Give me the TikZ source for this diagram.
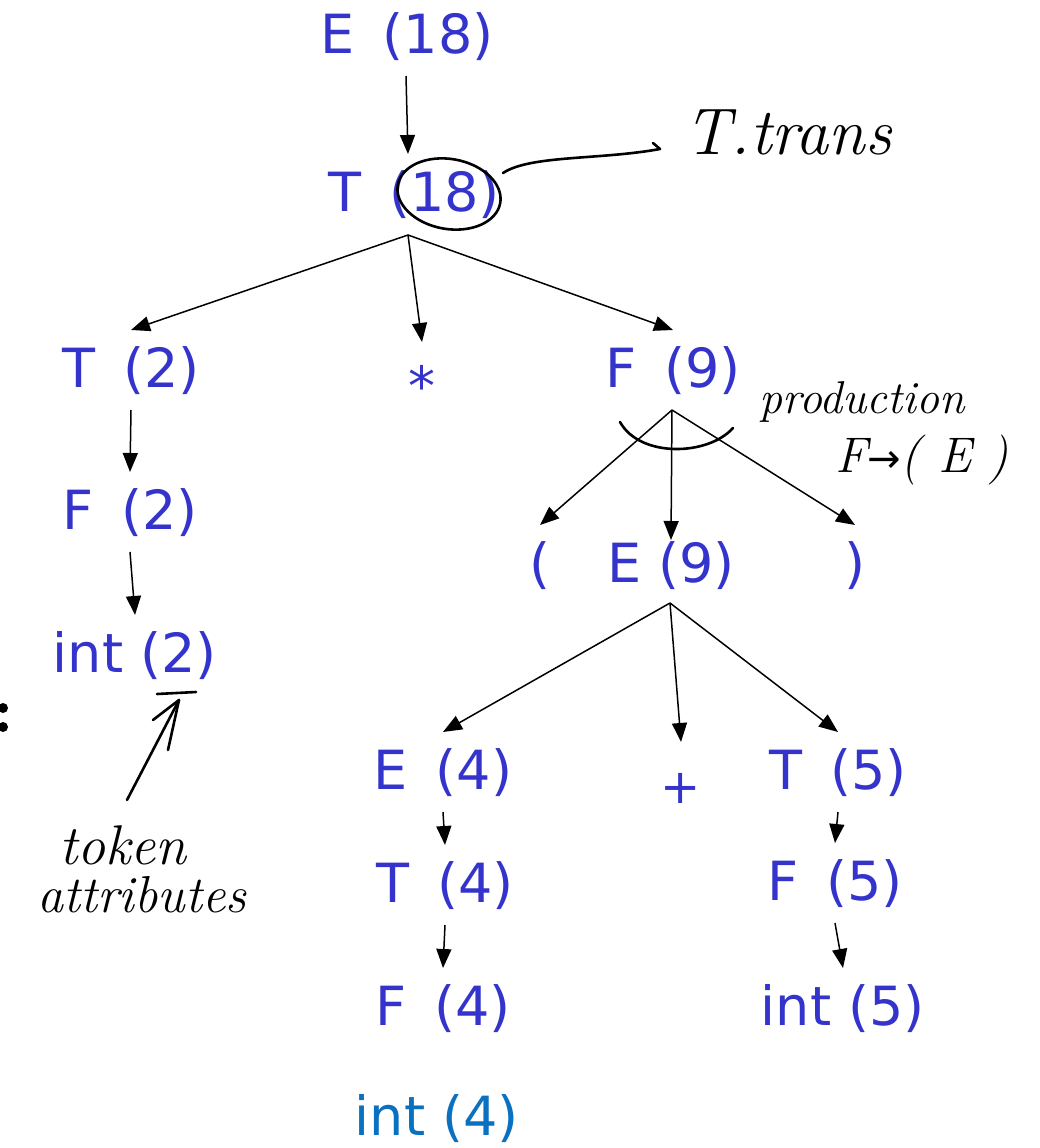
\documentclass[tikz,border=0pt]{standalone}
\usepackage{fontspec}
\newfontfamily\treefont{DejaVu Sans}
\usetikzlibrary{arrows.meta}
\definecolor{tblue}{RGB}{52,52,204}
\definecolor{iblue}{RGB}{10,112,192}
\newcommand{\tgap}{\hspace{0.52em}}
\tikzset{
  sym/.style={text=tblue, font=\treefont\fontsize{54}{60}\selectfont, inner sep=0pt, outer sep=15pt, text height=42pt, text depth=8pt, anchor=center},
  small/.style={sym, text height=24pt, text depth=0pt},
  arr/.style={line width=1.5pt, -{Triangle[length=19pt,width=15pt]}},
  hand/.style={line width=2.6pt, line cap=round, line join=round},
  note/.style={font=\itshape\fontsize{50}{56}\selectfont, inner sep=0pt, anchor=center}
}
\begin{document}
\begin{tikzpicture}[x=1pt,y=-1pt]
\useasboundingbox (0,0) rectangle (1039,1148);
% tree nodes
\node[sym] (E18) at (407,36) {E\tgap(18)};
\node[sym] (T18) at (414,194) {T\tgap(18)};
\node[sym] (T2) at (131,370) {T\tgap(2)};
\node[small, outer sep=39pt] (star) at (422,393) {*};
\node[sym] (F9) at (673,370) {F\tgap(9)};
\node[sym] (F2) at (130,512) {F\tgap(2)};
\node[sym] (int2) at (135,655) {int (2)};
\node[sym] (lp) at (540,565) {(};
\node[sym] (E9) at (671,565) {E (9)};
\node[sym] (rp) at (855,565) {)};
\node[sym] (E4) at (443,772) {E\tgap(4)};
\node[small, font=\treefont\fontsize{48}{52}\selectfont, outer sep=37pt] (plus) at (681,791) {+};
\node[sym] (T5) at (838,772) {T\tgap(5)};
\node[sym] (T4) at (445,885) {T\tgap(4)};
\node[sym] (F4) at (443,1008) {F\tgap(4)};
\node[sym, text=iblue] (int4) at (437,1118) {int (4)};
\node[sym] (F5) at (835,883) {F\tgap(5)};
\node[sym] (int5) at (843,1008) {int (5)};
% branch points
\coordinate (Tb) at (408,235);
\coordinate (Fb) at (672,410);
\coordinate (Eb) at (670,603);
% edges
\draw[arr] ([xshift=-1pt]E18.south) -- ([xshift=-6pt]T18.north);
\draw[arr] (Tb) -- (T2.north);
\draw[arr] (Tb) -- (star.north);
\draw[arr] (Tb) -- (F9.north);
\draw[arr] (T2.south) -- (F2.north);
\draw[arr] (F2.south) -- (int2.north);
\draw[arr] (Fb) -- (lp.north);
\draw[arr] (Fb) -- ([yshift=-15pt]E9.north);
\draw[arr] (Fb) -- (rp.north);
\draw[arr] (Eb) -- (E4.north);
\draw[arr] (Eb) -- (plus.north);
\draw[arr] (Eb) -- (T5.north);
\draw[arr] (E4.south) -- (T4.north);
\draw[arr] (T4.south) -- (F4.north);
\draw[arr] (T5.south) -- (F5.north);
\draw[arr] (F5.south) -- (int5.north);
% colon at left edge
\fill (3,708) circle (5pt);
\fill (3,727) circle (5pt);
% annotation: T.trans
\draw[hand, rotate around={-10:(449,194)}] (449,194) ellipse (52pt and 35pt);
\node[note, font=\itshape\fontsize{66}{70}\selectfont] (ttrans) at (788,132) {T.trans};
\coordinate (tt1) at (503,173);
\coordinate (tt2) at (660,149);
\draw[hand] (tt1) .. controls (530,155) and (600,160) .. (tt2) -- (653,143);
% annotation: production
\draw[hand] (620,422) .. controls (640,458) and (708,456) .. (733,428);
\node[note, font=\itshape\fontsize{46}{50}\selectfont] (prod) at (862,402) {production};
\node[note, font=\itshape\fontsize{50}{54}\selectfont] (prodF) at (922,460) {F{\treefont\fontsize{40}{44}\selectfont →}( E )};
% annotation: token attributes
\draw[hand] (157,694) -- (196,692);
\coordinate (ta1) at (127,800);
\coordinate (ta2) at (179,700);
\draw[hand] (ta1) -- (ta2);
\draw[hand] (153,720) -- (ta2) -- (168,750);
\node[note, font=\itshape\fontsize{56}{60}\selectfont] (token) at (123,845) {token};
\node[note, font=\itshape\fontsize{52}{56}\selectfont] (attr) at (142,895) {attributes};
\end{tikzpicture}
\end{document}
